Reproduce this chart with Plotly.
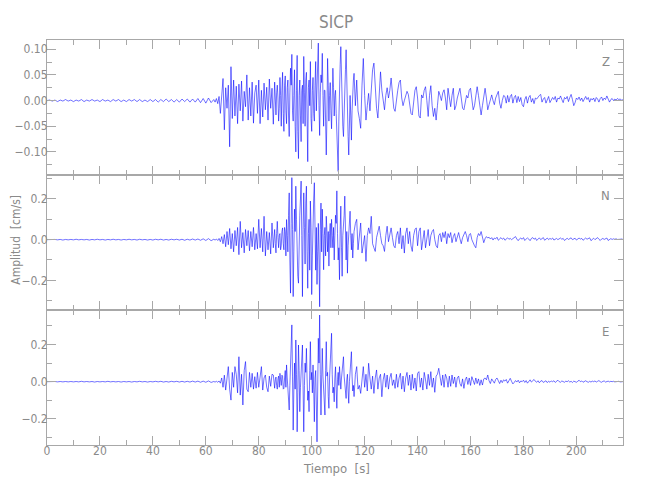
import numpy as np
import plotly.graph_objects as go
from plotly.subplots import make_subplots

# Seismogram of station SICP, values in 1e-3 cm/s.
# Each component is split into segments: (start time [s], sample step [s], values)
# pre-event: 0-62 s every 1 s; a: 63-85.5 s every 0.5 s;
# b (strong motion): 86-115.75 s every 0.25 s; c (coda): 116-217.5 s every 0.5 s

z_pre = [0, 1, -1, 1, -2, 1, -1, 2, -1, 1, -2, 1, -1, 2, -2, 1, -1, 2, -1, 1,
         -2, 2, -1, 1, -2, 2, -1, 2, -2, 1, -2, 2, -1, 2, -2, 2, -2, 1, -2, 2,
         -2, 2, -3, 2, -2, 3, -2, 2, -3, 2, -3, 3, -2, 3, -3, 3, -3, 4, -4, 4,
         -5, 5, -4]
z_a = [2, -3, 4, -6, 8, -25, 20, 43, -57, 25, -15, 30, -90, 66, -35, 40, -30, 28, -45, 32,
       -20, 38, -40, 18, -12, 50, -38, 25, -30, 36, -44, 15, 30, -25, 40, -45, 20, -32, 34, -18,
       26, -38, 42, -15, 24, -46]
z_b = [36, -10, -28, 15, 30, 5, -40, -15, 45, 10, -50, 20, 55, -25, -60, 30, 48, -20, -45, 25,
       40, -30, -70, 15, 63, 30, 90, -20, -40, 10, 60, -50, -100, 20, 88, -60, -113, 10, 40, -30,
       -80, 20, 30, -45, 86, 15, -50, 40, 55, -30, -119, 25, 40, -10, 76, -35, -60, 20, 45, -25,
       -40, 30, 76, -20, 30, 60, 112, -10, -68, 15, 50, 35, 92, 10, -50, 20, 20, -40, -106, -30,
       82, 30, -40, 10, 35, -20, -55, 5, 63, 25, -30, 10, 20, -25, -60, -100, -138, -40, 40, 70,
       105, 30, -20, -50, -70, -10, 30, 60, 99, 20, -30, -70, -106, -40, 10, -30, -77, -20, 20, 40]
z_c = [53, -10, 40, -20, -35, -54, 30, 82, 10, -38, -10, 14, -20, 20,
       60, 73, 20, -15, -34, 10, 56, 20, -5, -18, 10, 25, 5, 20, 44, 10, -15, -21, 5, 20,
       35, 40, 5, -10, 0, 10, 18, 12, -10, -25, -28, 0, 20, 27, 5, -30, -34, 11, 5, 20,
       27, 0, -31, 10, 29, -10, -31, -15, -38, -10, 18, 10, 0, 15, 21, 5, -18, 24, 5, -12,
       10, 24, -18, -10, 5, 18, 24, 5, -15, -18, 0, 10, 5, 20, 24, 0, -18, -10, 10, 27,
       10, -10, -28, -10, 10, 24, 5, -18, -8, 5, 11, 0, -8, 5, 12, 18, -5, -15, 0, 10,
       8, -5, 10, -3, 8, 12, -5, 6, 10, -4, 8, -2, 6, -8, -12, 2, 8, -5, 6, 10,
       -3, 4, -6, 5, 3, 8, 10, 12, -3, 3, 6, -5, 4, 8, -4, 3, 6, 2, 8, -3,
       5, 3, 9, 2, -4, 6, 3, 8, -2, 6, 12, 2, -10, -4, 5, 2, 7, 0, 5, -2,
       4, 8, 2, 6, -3, 4, 1, 5, -2, 6, 3, -3, 4, 7, 0, 5, 2, 9, 3, -3,
       2, 4, 0, 3, 1, 4, 2, 3, 1, 2]

n_pre = [0, 1, -1, 1, -1, 1, -2, 1, -1, 1, -1, 2, -1, 1, -1, 1, -2, 1, -1, 2,
         -1, 1, -2, 1, -1, 2, -1, 1, -2, 1, -1, 2, -1, 1, -2, 2, -1, 1, -2, 1,
         -2, 2, -1, 2, -2, 1, -2, 2, -1, 2, -2, 2, -3, 2, -2, 3, -2, 3, -3, 4,
         -4, 5, -5]
n_a = [2, -2, 3, -4, 6, -10, 15, -20, 25, -35, 40, -25, 55, -45, 30, -60, 45, -30, 60, -74,
       90, -40, 35, -65, 50, -30, 45, -55, 40, -35, 60, -50, 30, -45, 100, -40, 55, -60, 115, -80,
       40, -50, 35, -70, 82, -40]
n_b = [50, -20, -65, 30, 90, 10, -40, 20, 30, -50, -30, 40, 58, -20, -50, 60, 40, -80, 99, 20,
       -60, 120, 230, -100, -263, 80, 305, 50, -280, -60, 150, 40, 263, 100, -100, -180, -214, 30, 120, 200,
       288, 20, -280, 50, 230, 60, -120, 180, 263, -60, -239, 30, 100, -150, 190, 60, -270, -80, 120, 200,
       280, 30, -150, 60, -220, -60, 80, -100, -330, 50, 180, -60, 150, 30, -148, 20, 60, -80, 115, 40,
       -60, 40, -130, 30, 80, -40, 100, 20, -40, 60, -100, 20, 120, 80, 240, 30, -100, -40, -197, 50,
       165, -40, -180, 20, 60, 120, 214, 30, -100, 40, -165, -30, 60, 100, 140, 20, -50, 30, -90, -20]
n_c = [40, 80, 100, -50, 30, 82, -66, -30, 20, -107, 20, 58, 30, 115,
       -20, -40, -58, 10, 40, 66, 20, -20, -30, -58, 20, 66, -10, 30, 58, 10, -30, -40, 20, 40,
       -20, 58, -45, 20, -66, 30, 58, -20, 40, -30, -58, 20, 50, 58, -30, 40, 58, -50, 10, 45,
       -40, 20, 50, -30, 20, 40, 50, 0, -30, -40, 20, 30, -10, 35, 10, 40, -20, 30, 10, 35,
       -15, 15, 30, -10, 20, 35, 5, -20, 10, 30, 40, 20, -10, 25, 30, 0, -20, -30, -40, 10,
       30, 20, 40, 10, -15, 5, 15, 8, 12, 3, 10, -2, 8, 4, 12, -3, 6, 10, 2, 8,
       -3, 5, 9, 2, 6, 0, 5, 10, 15, 3, -5, 4, 8, 2, 10, -4, 5, 9, 3, -5,
       6, 10, 2, 8, -4, 4, 9, 0, 6, 10, -3, 5, 8, 0, 6, 2, 8, -2, 4, 6,
       0, 5, 8, 2, 6, -4, 3, 7, 1, 5, 9, 0, 4, 7, -2, 5, 8, 3, 6, -3,
       4, 8, 2, 6, 9, -5, 3, 7, 0, 5, 10, 2, -4, 3, 6, 1, 5, 8, -4, 3,
       5, 1, 4, 2, 4, 1, 3, 2, 3, 2]

e_pre = [0, 1, -1, 1, -1, 1, -1, 1, -1, 1, -1, 1, -1, 2, -1, 1, -1, 1, -2, 1,
         -1, 1, -1, 2, -1, 1, -1, 1, -2, 1, -1, 1, -2, 1, -1, 2, -1, 1, -2, 1,
         -1, 2, -1, 2, -2, 1, -2, 2, -1, 2, -2, 2, -2, 2, -2, 3, -2, 3, -3, 3,
         -3, 4, -4]
e_a = [1, -2, 2, -3, 4, -8, 20, -30, 35, -45, 30, 81, -40, -99, 50, -30, 81, 40, -60, 134,
       -72, 40, -125, 60, 108, -40, -54, 50, -30, 45, -40, 27, -35, 50, -30, 40, 81, -45, 20, 36,
       -30, -54, 30, -25, 40, 36]
e_b = [-35, 10, 25, -20, -40, 15, 30, -30, 45, 10, -20, 35, 30, -40, -36, 20, 60, -30, 90, 20,
       -60, -100, -152, -20, 100, 150, 305, 30, -260, -50, 100, -40, 224, 40, -269, -60, 197, 60, -161, -30,
       50, 120, 197, -40, -269, -20, 100, 50, 179, 20, -100, -50, -161, 60, 215, 10, 50, -60, 90, -40,
       -215, 20, 60, -120, -323, -50, 233, 100, 358, 40, -179, 20, 179, 30, -80, -120, -179, 60, 215, 30,
       50, -80, -143, 20, 100, 150, 260, 40, -60, -30, -108, 20, 80, -40, -143, 10, 50, -20, 81, 20,
       -40, 20, 60, 100, 134, 30, -30, -70, -90, 10, 40, -50, -116, 0, 60, 100, 161, 30, -50, -20]
e_c = [-80, 40, 81, -40, -20, -63, 30, 81, -30, 40, -50, 99, 20, -40,
       30, -63, 20, 63, -40, 20, 40, -81, 10, 45, -30, 36, -40, 20, 45, -20, 10, -36, 40, -30,
       20, 45, -40, 30, -54, 20, 50, -20, 36, -45, 40, -36, 20, -50, 45, 54, -30, 20, -45, 50,
       10, -40, 40, -20, 54, -30, 20, -57, 30, 40, 72, 20, -20, 36, -30, 40, 20, -30, 30, -25,
       36, -10, 25, -30, 20, 30, -10, -25, 15, -36, 10, 25, -15, 20, -20, 27, 10, -15, 20, -10,
       15, -20, 10, -18, 15, 20, 10, 36, 5, -10, 15, 5, -8, 12, 20, 5, -10, 8, -5, 10,
       3, 12, -8, 5, 18, 2, -12, -4, 6, -2, 8, -6, 4, 0, 8, -4, 6, -8, 3, 10,
       -2, 5, 12, 2, -3, 5, -6, 3, 6, -4, 2, 5, -5, 3, -3, 4, 0, 5, -4, 2,
       8, 0, -3, 4, 1, -3, 3, 0, 5, -2, 2, -4, 3, 0, -3, 2, 8, 0, 4, -3,
       2, 5, 0, -3, 2, -2, 3, 0, 4, -2, 2, 6, 0, -3, 2, 4, -2, 1, 3, -1,
       2, 0, 2, -1, 1, 0, 2, -1, 1, 0]

seg_start = [0.0, 63.0, 86.0, 116.0]
seg_step = [1.0, 0.5, 0.25, 0.5]

components = ["Z", "N", "E"]
data = [[z_pre, z_a, z_b, z_c], [n_pre, n_a, n_b, n_c], [e_pre, e_a, e_b, e_c]]

y_ranges = [[-0.145, 0.118], [-0.346, 0.318], [-0.340, 0.385]]
y_ticks = [[-0.10, -0.05, 0.0, 0.05, 0.10], [-0.2, 0.0, 0.2], [-0.2, 0.0, 0.2]]
y_fmt = [".2f", ".1f", ".1f"]
y_minor = [0.025, 0.1, 0.1]
x_ticks = [0, 20, 40, 60, 80, 100, 120, 140, 160, 180, 200]

FONT = "Liberation Sans Narrow, DejaVu Sans Condensed, Liberation Sans, sans-serif"
GRAY = "#8a8a8a"
AXIS = "#a8a8a8"

fig = make_subplots(rows=3, cols=1, shared_xaxes=True, vertical_spacing=0)

for i, segs in enumerate(data):
    t = np.concatenate([s0 + np.arange(len(seg)) * ds
                        for s0, ds, seg in zip(seg_start, seg_step, segs)])
    v = np.concatenate([np.array(seg, dtype=float) for seg in segs]) * 1e-3
    fig.add_trace(go.Scatter(x=t, y=v, mode="lines",
                             line=dict(color="rgba(0,0,255,0.8)", width=0.7),
                             showlegend=False, hoverinfo="skip"),
                  row=i + 1, col=1)
    fig.update_yaxes(range=y_ranges[i], tickvals=y_ticks[i], tickformat=y_fmt[i],
                     ticks="inside", ticklen=9, tickcolor=AXIS, showline=True,
                     linecolor=AXIS, linewidth=1, mirror="ticks", showgrid=False,
                     zeroline=False, automargin=False, ticklabelstandoff=-4,
                     minor=dict(dtick=y_minor[i], tick0=0, ticks="inside", ticklen=5,
                                tickcolor=AXIS, showgrid=False),
                     tickfont=dict(family=FONT, size=12, color=GRAY),
                     row=i + 1, col=1)
    fig.update_xaxes(range=[0, 217.6], tickvals=x_ticks, ticks="inside", ticklen=9,
                     tickcolor=AXIS, showline=True, linecolor=AXIS, linewidth=1,
                     mirror="ticks", showgrid=False, zeroline=False, automargin=False,
                     ticklabelstandoff=-5,
                     minor=dict(dtick=10, tick0=0, ticks="inside", ticklen=5,
                                tickcolor=AXIS, showgrid=False),
                     tickfont=dict(family=FONT, size=12, color=GRAY),
                     row=i + 1, col=1)

label_y = [0.946, 0.615, 0.281]
for comp, ly in zip(components, label_y):
    fig.add_annotation(text=comp, xref="paper", yref="paper", x=0.970, y=ly,
                       xanchor="center", yanchor="middle", showarrow=False,
                       font=dict(family=FONT, size=13, color=GRAY))

fig.add_annotation(text="SICP", xref="paper", yref="paper", x=0.502, y=1.044,
                   xanchor="center", yanchor="middle", showarrow=False,
                   font=dict(family=FONT, size=17, color=GRAY))
fig.add_annotation(text="Tiempo  [s]", xref="paper", yref="paper", x=0.502, y=-0.057,
                   xanchor="center", yanchor="middle", showarrow=False,
                   font=dict(family=FONT, size=13, color=GRAY))
fig.add_annotation(text="Amplitud  [cm/s]", xref="paper", yref="paper", x=-0.0545, y=0.506,
                   xanchor="center", yanchor="middle", textangle=-90, showarrow=False,
                   font=dict(family=FONT, size=12, color=GRAY))

fig.update_layout(width=650, height=500, margin=dict(l=39, r=35, t=32, b=63),
                  plot_bgcolor="white", paper_bgcolor="white")

fig.write_html("out.html")
